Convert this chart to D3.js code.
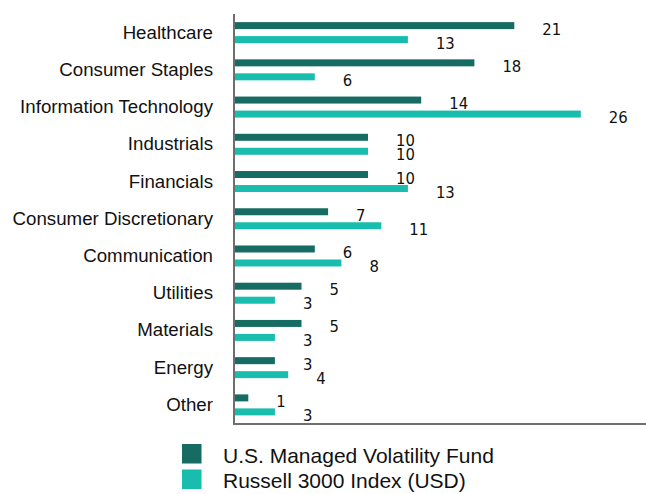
<!DOCTYPE html>
<html>
<head>
<meta charset="utf-8">
<script src="https://cdn.jsdelivr.net/npm/d3@7"></script>
<style>
  html, body { margin: 0; padding: 0; background: #fff; }
  svg { display: block; }
</style>
</head>
<body>
<svg id="chart" width="646" height="494"></svg>
<script>
const categories = ["Healthcare", "Consumer Staples", "Information Technology", "Industrials", "Financials", "Consumer Discretionary", "Communication", "Utilities", "Materials", "Energy", "Other"];
const fundValues = [21, 18, 14, 10, 10, 7, 6, 5, 5, 3, 1];
const indexValues = [13, 6, 26, 10, 13, 11, 8, 3, 3, 4, 3];
const seriesNames = ["U.S. Managed Volatility Fund", "Russell 3000 Index (USD)"];
const seriesColors = ["#166b62", "#19bdad"];

const svg = d3.select("#chart");
const x0 = 235;
const x = d3.scaleLinear().domain([0, 31]).range([x0, x0 + 31 * 13.3]);
const y = d3.scaleBand().domain(categories).range([14, 423.5]).paddingInner(0).paddingOuter(0);
const sub = d3.scaleBand().domain([0, 1]).range([0, y.bandwidth()]).paddingInner(0.5).paddingOuter(0.58);

const rows = categories.map((c, i) => ({ cat: c, vals: [fundValues[i], indexValues[i]] }));

// bars
const g = svg.append("g");
rows.forEach(r => {
  r.vals.forEach((v, s) => {
    g.append("rect")
      .attr("x", x(0))
      .attr("y", y(r.cat) + sub(s))
      .attr("width", x(v) - x(0))
      .attr("height", sub.bandwidth())
      .attr("fill", seriesColors[s]);
  });
});

// value labels
rows.forEach(r => {
  r.vals.forEach((v, s) => {
    g.append("text")
      .attr("x", x(v) + 28)
      .attr("y", y(r.cat) + sub(s) + sub.bandwidth() / 2 + 9)
      .attr("font-family", "'DejaVu Sans Condensed', 'DejaVu Sans', sans-serif")
      .attr("font-stretch", "condensed")
      .attr("font-size", 16.5)
      .attr("fill", "#111")
      .text(v);
  });
});

// axes lines
const axisColor = "#6e6e6e";
const yAxis = d3.axisLeft(y).tickSize(0).tickPadding(21);
const ay = svg.append("g").attr("transform", `translate(${x0 - 1},0)`).call(yAxis);
ay.select(".domain").attr("stroke", axisColor).attr("stroke-width", 2).attr("d", `M0,14V424`);
ay.selectAll("text")
  .attr("font-family", "'Liberation Sans', Arial, sans-serif")
  .attr("font-size", 18.7)
  .attr("fill", "#111");

const xAxis = d3.axisBottom(x).tickSize(0).tickValues([]);
const ax = svg.append("g").attr("transform", `translate(0,424)`).call(xAxis);
ax.select(".domain").attr("stroke", axisColor).attr("stroke-width", 2).attr("d", `M${x0 - 2},0H646`);

// legend
const leg = svg.append("g").attr("transform", "translate(182,444)");
seriesNames.forEach((n, i) => {
  leg.append("rect").attr("x", 0).attr("y", i * 25.5).attr("width", 19.5).attr("height", 19.5).attr("fill", seriesColors[i]);
  leg.append("text")
    .attr("x", 41)
    .attr("y", i * 25.5 + 18.5)
    .attr("font-family", "'Liberation Sans', Arial, sans-serif")
    .attr("font-size", 21)
    .attr("fill", "#111")
    .text(n);
});
</script>
</body>
</html>
